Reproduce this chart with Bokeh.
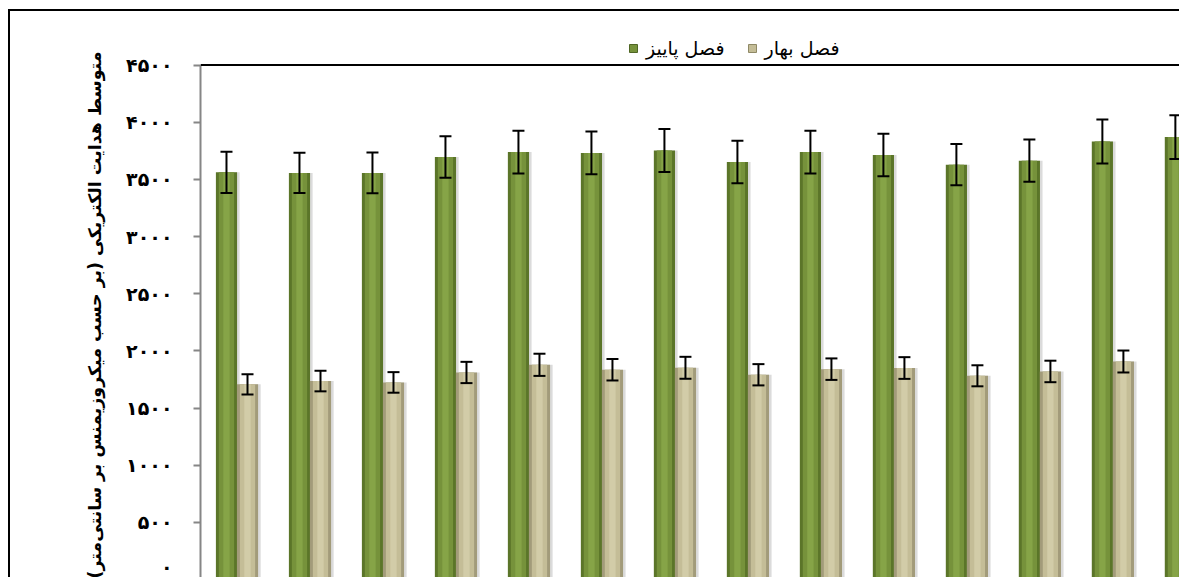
import numpy as np
from bokeh.plotting import figure
from bokeh.models import (ColumnDataSource, Whisker, Legend, LegendItem, FixedTicker,
                          CustomJSTickFormatter, Range1d, TeeHead, Span, Title)
from bokeh.embed import file_html
from bokeh.resources import INLINE

# ---- data ----
groups = list(range(1, 15))
autumn = [3562, 3557, 3557, 3696, 3739, 3731, 3753, 3652, 3739, 3713, 3629, 3664, 3832, 3870]
autumn_err = [180, 177, 178, 181, 187, 187, 188, 185, 187, 186, 180, 185, 192, 192]
spring = [1707, 1736, 1724, 1811, 1878, 1835, 1852, 1791, 1840, 1850, 1782, 1820, 1907, float("nan")]
spring_err = [89, 90, 90, 93, 97, 94, 96, 93, 94, 95, 92, 94, 96, float("nan")]
y_ticks = [0, 500, 1000, 1500, 2000, 2500, 3000, 3500, 4000, 4500]
series_labels = ["فصل پاییز", "فصل بهار"]
y_title = "متوسط هدایت الکتریکی (بر حسب میکروزیمنس بر سانتی‌متر)"

# ---- layout ----
FONT = "DejaVu Sans"
OFF = 0.144
BW = 0.29
Y_MAX = 4500

idx = np.arange(len(groups), dtype=float)
a = np.array(autumn, dtype=float)
ae = np.array(autumn_err, dtype=float)
s = np.array(spring, dtype=float)
se = np.array(spring_err, dtype=float)

src_a = ColumnDataSource(dict(x=idx - OFF, xs=idx - OFF + 0.035, top=a,
                              upper=a + ae, lower=a - ae))
src_s = ColumnDataSource(dict(x=idx + OFF, xs=idx + OFF + 0.035, top=s,
                              upper=s + se, lower=s - se))

p = figure(width=1171, height=568, x_range=Range1d(-0.5, 12.94), y_range=Range1d(0, 4890),
           output_backend="svg", toolbar_location=None, x_axis_location=None,
           min_border_left=190, min_border_top=9, min_border_right=0, min_border_bottom=0)
p.styles = {"margin-left": "8px", "margin-top": "9px",
            "border-top": "2px solid black", "border-left": "2px solid black"}
p.xgrid.visible = False
p.ygrid.visible = False
p.outline_line_color = None
p.background_fill_color = "white"
p.border_fill_color = "white"

# bars: shadow, dark edge, main, highlight
for src, cols in ((src_a, ("#5b7529", "#76923b", "#86a447")),
                  (src_s, ("#a29b7a", "#c4bd97", "#d2cca8"))):
    p.vbar(x="xs", top="top", width=BW, source=src, fill_color="#b0b0b0", fill_alpha=0.45,
           line_color=None)
    p.vbar(x="x", top="top", width=BW, source=src, fill_color=cols[0], line_color=None)
    p.vbar(x="x", top="top", width=BW * 0.72, source=src, fill_color=cols[1], line_color=None)
    p.vbar(x="x", top="top", width=BW * 0.3, source=src, fill_color=cols[2], line_color=None)

# legend proxies
g_leg = p.vbar(x=[-10], top=[1], width=0.1, fill_color="#76923b", line_color="#4f6624")
b_leg = p.vbar(x=[-10], top=[1], width=0.1, fill_color="#c4bd97", line_color="#8f8966")

for src in (src_a, src_s):
    w = Whisker(base="x", upper="upper", lower="lower", source=src, level="overlay",
                line_color="black", line_width=2,
                upper_head=TeeHead(size=12, line_color="black", line_width=2),
                lower_head=TeeHead(size=12, line_color="black", line_width=2))
    p.add_layout(w)

# plot-area top border
p.add_layout(Span(location=Y_MAX, dimension="width", line_color="black", line_width=2))

ax = p.yaxis[0]
ax.bounds = (0, Y_MAX)
ax.ticker = FixedTicker(ticks=y_ticks)
ax.formatter = CustomJSTickFormatter(code="""
const d = '۰۱۲۳۴۵۶۷۸۹';
return String(Math.round(tick)).replace(/[0-9]/g, c => d[+c]);
""")
ax.major_label_text_font = FONT
ax.major_label_text_font_style = "bold"
ax.major_label_text_font_size = "19px"
ax.major_label_text_color = "black"
ax.major_label_standoff = 21
ax.major_tick_out = 7
ax.major_tick_in = 0
ax.minor_tick_out = 0
ax.minor_tick_in = 0
ax.axis_line_color = "#868686"
ax.axis_line_width = 2
ax.major_tick_line_color = "#868686"
ax.major_tick_line_width = 2

# y-axis title (as a side title so that it can be placed along the axis)
ytitle = Title(text=y_title, align="left", offset=1, standoff=37,
               text_font=FONT, text_font_style="bold", text_font_size="17.4px",
               text_color="black")
p.add_layout(ytitle, "left")

legend = Legend(items=[LegendItem(label=series_labels[0], renderers=[g_leg]),
                       LegendItem(label=series_labels[1], renderers=[b_leg])],
                orientation="horizontal", location=(428, 520),
                glyph_width=10, glyph_height=10, label_standoff=8, spacing=22,
                padding=0, margin=0, border_line_alpha=0, background_fill_alpha=0,
                label_text_font=FONT, label_text_font_size="19px",
                label_text_color="black")
p.add_layout(legend, "center")

open("out.html", "w").write(file_html(p, INLINE))
